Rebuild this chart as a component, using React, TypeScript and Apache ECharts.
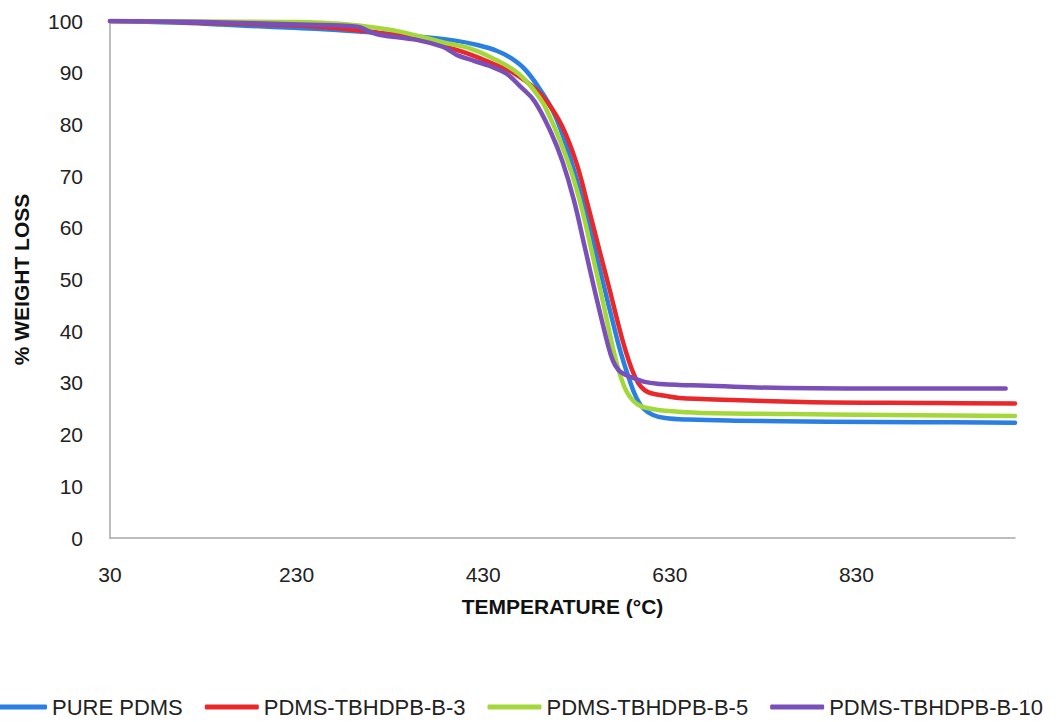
import React, { useEffect, useRef } from "react";
import * as echarts from "echarts";

// Thermogravimetric curves: temperature (°C) vs. % weight remaining
const SERIES_NAMES = ["PURE PDMS", "PDMS-TBHDPB-B-3", "PDMS-TBHDPB-B-5", "PDMS-TBHDPB-B-10"];
const SERIES_COLORS = ["#2a7fe2", "#e8282b", "#a4d83a", "#7b4fba"];

const pureTemp = [30, 100, 150, 200, 250, 300, 350, 400, 425, 445, 460, 475, 490, 505, 517, 530, 540, 550, 560, 570, 578, 586, 594, 602, 612, 625, 650, 700, 800, 900, 1000];
const pureLoss = [100, 99.7, 99.3, 98.9, 98.5, 97.9, 97.2, 96.2, 95.3, 94.2, 92.8, 90.6, 87.0, 82.5, 77, 69.5, 63, 55.7, 48.3, 41, 35.5, 31, 27.2, 25.0, 23.8, 23.2, 22.9, 22.7, 22.5, 22.4, 22.3];

const b3Temp = [30, 100, 200, 260, 306, 320, 360, 409, 449, 462, 485, 500, 515, 530, 542, 554.5, 565, 575, 582, 589, 596, 603, 610, 625, 640, 664, 772, 915, 1000];
const b3Loss = [100, 99.8, 99.3, 98.8, 98.0, 97.7, 96.5, 94.0, 91.1, 90.0, 87.0, 84.0, 79.5, 72.5, 64.5, 55.7, 48.4, 41.2, 36.6, 32.8, 30.0, 28.6, 28.0, 27.5, 27.1, 26.9, 26.3, 26.1, 26.0];

const b5Temp = [30, 130, 234, 280, 323, 342, 391, 414, 438, 468, 491, 500, 512, 525, 536, 546, 558, 569.5, 576, 583, 591, 600, 610, 625, 664, 800, 1000];
const b5Loss = [100, 99.9, 99.8, 99.4, 98.5, 97.9, 95.7, 94.8, 93.0, 89.8, 85.0, 82.0, 77.0, 70.5, 63.5, 55.7, 46.0, 36.4, 32.0, 28.6, 26.5, 25.4, 25.0, 24.6, 24.2, 23.9, 23.6];

const b10Temp = [30, 130, 234, 295, 310, 320, 360, 387, 395, 402, 420, 437, 455, 470, 485, 503, 515, 527, 538.6, 550, 563.5, 569, 575, 582, 590, 603, 620, 640, 664, 754, 880, 990];
const b10Loss = [100, 99.8, 99.3, 98.9, 97.8, 97.3, 96.3, 95.0, 94.2, 93.4, 92.3, 91.3, 89.8, 87.3, 84.5, 78.3, 72.8, 65.5, 56.5, 47.5, 37.5, 34.3, 32.5, 31.6, 31.0, 30.2, 29.8, 29.6, 29.5, 29.0, 28.9, 28.9];

const xTickValues = [30, 230, 430, 630, 830];
const yTickInterval = 10;

const FONT = "'Liberation Sans', Arial, sans-serif";

function pairs(xs: number[], ys: number[]) {
  return xs.map((x, i) => [x, ys[i]]);
}

export default function App() {
  const ref = useRef<HTMLDivElement>(null);

  useEffect(() => {
    const chart = echarts.init(ref.current!, null, { renderer: "svg" });
    const seriesData = [
      pairs(pureTemp, pureLoss),
      pairs(b3Temp, b3Loss),
      pairs(b5Temp, b5Loss),
      pairs(b10Temp, b10Loss),
    ];
    chart.setOption({
      animation: false,
      backgroundColor: "#ffffff",
      textStyle: { fontFamily: FONT },
      grid: { left: 110, right: 44, top: 21, bottom: 184 },
      xAxis: {
        type: "value",
        min: 30,
        max: 1000,
        name: "TEMPERATURE (°C)",
        nameLocation: "middle",
        nameGap: 58,
        nameTextStyle: { fontFamily: FONT, fontSize: 21, fontWeight: "bold", color: "#111" },
        axisLine: { show: true, lineStyle: { color: "#a6a6a6", width: 1.5 } },
        axisTick: { show: false },
        splitLine: { show: false },
        axisLabel: {
          customValues: xTickValues,
          margin: 26,
          fontFamily: FONT,
          fontSize: 21,
          color: "#222",
        },
      },
      yAxis: {
        type: "value",
        min: 0,
        max: 100,
        interval: yTickInterval,
        name: "% WEIGHT LOSS",
        nameLocation: "middle",
        nameRotate: 90,
        nameGap: 78,
        nameTextStyle: { fontFamily: FONT, fontSize: 21, fontWeight: "bold", color: "#111" },
        axisLine: { show: true, lineStyle: { color: "#a6a6a6", width: 1.5 } },
        axisTick: { show: false },
        splitLine: { show: false },
        axisLabel: { margin: 27, fontFamily: FONT, fontSize: 21, color: "#222" },
      },
      legend: {
        left: -7,
        top: 696,
        padding: 0,
        itemGap: 22,
        itemWidth: 54,
        itemHeight: 5,
        icon: "roundRect",
        textStyle: { fontFamily: FONT, fontSize: 22, color: "#222" },
        data: SERIES_NAMES,
      },
      series: SERIES_NAMES.map((name, i) => ({
        name,
        type: "line",
        data: seriesData[i],
        smooth: 0.4,
        showSymbol: false,
        symbol: "none",
        color: SERIES_COLORS[i],
        lineStyle: { width: 4.5, color: SERIES_COLORS[i], cap: "round", join: "round" },
        z: 2 + i,
      })),
    });
    return () => chart.dispose();
  }, []);

  return (
    <div
      ref={ref}
      style={{ position: "absolute", left: 0, top: 0, width: 1059, height: 722, background: "#fff" }}
    />
  );
}
